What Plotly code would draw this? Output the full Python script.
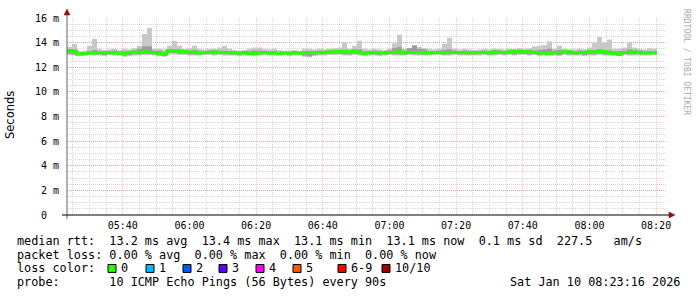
import pandas as pd
import plotly.graph_objects as go

# ---------------- data ----------------
start_time = "2026-01-10 05:23:16"
end_time = "2026-01-10 08:23:16"
step_seconds = 90

median_ms = [13.35,13.3,13.05,13.1,13.15,13.15,13.2,13.15,13.2,13.15,
             13.15,13.1,13.2,13.25,13.2,13.25,13.2,13.2,13.1,13.05,
             13.35,13.35,13.3,13.25,13.2,13.25,13.15,13.2,13.2,13.25,
             13.2,13.2,13.2,13.15,13.15,13.2,13.1,13.1,13.15,13.2,
             13.15,13.15,13.1,13.15,13.15,13.15,13.15,13.15,13.2,13.2,
             13.2,13.2,13.25,13.25,13.3,13.3,13.25,13.3,13.2,13.1,
             13.15,13.2,13.15,13.15,13.2,13.2,13.25,13.15,13.2,13.2,
             13.2,13.15,13.15,13.2,13.2,13.15,13.2,13.2,13.2,13.2,
             13.15,13.2,13.2,13.2,13.15,13.25,13.2,13.2,13.25,13.3,
             13.3,13.25,13.25,13.2,13.15,13.15,13.1,13.2,13.2,13.25,
             13.25,13.15,13.2,13.2,13.25,13.2,13.3,13.25,13.15,13.1,
             13.05,13.2,13.2,13.25,13.2,13.15,13.15,13.15]

smoke_max = [13.65,13.9,13.3,13.35,13.75,14.3,13.5,13.4,13.45,13.5,
             13.4,13.5,13.45,13.55,13.75,14.7,15.2,13.5,13.5,13.45,
             13.75,14.15,13.75,13.5,13.55,13.75,13.5,13.45,13.5,13.5,
             13.6,13.75,13.5,13.4,13.35,13.4,13.5,13.6,13.6,13.5,
             13.45,13.5,13.4,13.35,13.35,13.4,13.35,13.5,13.5,13.45,
             13.5,13.45,13.5,13.55,13.6,14.0,13.5,13.75,14.15,13.5,
             13.45,13.5,13.45,13.4,13.5,13.95,14.65,13.5,13.55,13.8,
             13.65,13.55,13.5,13.45,13.5,13.9,14.4,13.5,13.45,13.5,
             13.45,13.4,13.45,13.5,13.45,13.5,13.5,13.45,13.5,13.5,
             13.55,13.5,13.55,13.7,13.75,13.8,14.1,13.5,13.75,13.5,
             13.45,13.45,13.5,13.45,13.6,14.0,14.45,14.0,14.25,13.5,
             13.5,13.6,14.0,13.6,13.5,13.45,13.55,13.5]

smoke_min = [13.0,12.95,12.95,12.95,13.0,12.95,12.95,12.9,13.0,12.95,
             12.95,12.85,12.9,12.95,12.95,13.0,13.0,12.95,12.9,12.85,
             13.05,13.05,13.0,13.0,12.95,12.95,12.95,13.0,13.0,12.95,
             13.0,12.95,12.95,12.95,12.9,12.95,12.95,12.9,12.95,13.0,
             12.95,12.95,12.95,13.0,12.9,12.95,12.95,12.85,12.8,12.9,
             12.95,12.95,13.0,13.0,13.0,12.95,12.95,13.0,12.95,12.95,
             12.95,12.95,12.9,12.95,13.0,12.95,12.95,12.95,13.0,12.95,
             12.95,12.95,12.95,13.0,13.0,12.95,12.95,13.0,12.95,12.95,
             12.95,12.95,12.95,13.0,12.95,12.95,13.0,12.95,13.0,12.95,
             13.0,13.0,12.95,13.0,12.9,12.95,12.95,12.95,12.9,13.0,
             12.95,12.95,12.95,12.9,12.95,12.95,13.0,12.95,12.95,12.95,
             12.9,13.0,12.95,12.95,12.95,12.95,12.95,13.0]

smoke_mid_lo = [13.1,13.05,13.0,13.0,13.05,13.05,13.05,13.0,13.05,13.05,
                13.0,12.95,13.0,13.05,13.05,13.1,13.1,13.05,13.0,12.95,
                13.15,13.15,13.1,13.1,13.05,13.05,13.05,13.05,13.1,13.05,
                13.1,13.05,13.05,13.05,13.0,13.05,13.0,13.0,13.05,13.1,
                13.05,13.05,13.0,13.05,13.0,13.05,13.05,12.95,12.9,13.0,
                13.05,13.05,13.1,13.1,13.1,13.05,13.05,13.1,13.05,13.0,
                13.05,13.05,13.0,13.05,13.1,13.05,13.05,13.05,13.1,13.05,
                13.05,13.05,13.05,13.1,13.1,13.05,13.05,13.1,13.05,13.05,
                13.05,13.05,13.05,13.1,13.05,13.05,13.1,13.05,13.1,13.05,
                13.1,13.1,13.05,13.1,13.0,13.05,13.05,13.05,13.0,13.1,
                13.05,13.05,13.05,13.0,13.05,13.05,13.1,13.05,13.05,13.0,
                12.95,13.1,13.05,13.05,13.05,13.05,13.05,13.1]

smoke_mid_hi = [13.45,13.45,13.2,13.2,13.3,13.4,13.3,13.3,13.3,13.35,
                13.25,13.3,13.3,13.35,13.5,13.7,13.7,13.35,13.35,13.25,
                13.45,13.45,13.45,13.4,13.35,13.4,13.3,13.3,13.35,13.35,
                13.35,13.35,13.3,13.3,13.25,13.3,13.3,13.35,13.35,13.3,
                13.3,13.3,13.25,13.25,13.25,13.3,13.25,13.3,13.3,13.3,
                13.35,13.35,13.35,13.4,13.4,13.4,13.35,13.45,13.45,13.3,
                13.3,13.35,13.3,13.3,13.35,13.55,13.65,13.35,13.55,13.75,
                13.5,13.45,13.3,13.3,13.35,13.4,13.45,13.35,13.3,13.35,
                13.3,13.3,13.3,13.35,13.3,13.4,13.35,13.3,13.35,13.4,
                13.4,13.4,13.4,13.35,13.4,13.45,13.5,13.35,13.4,13.35,
                13.35,13.3,13.35,13.35,13.4,13.4,13.45,13.4,13.35,13.3,
                13.3,13.35,13.45,13.4,13.35,13.3,13.3,13.3]

y_tick_vals = [0, 2, 4, 6, 8, 10, 12, 14, 16]
y_tick_text = ["0  ", "2 m", "4 m", "6 m", "8 m", "10 m", "12 m", "14 m", "16 m"]

legend_line1 = "median rtt:  13.2 ms avg  13.4 ms max  13.1 ms min  13.1 ms now  0.1 ms sd  227.5   am/s"
legend_line2 = "packet loss: 0.00 % avg  0.00 % max  0.00 % min  0.00 % now"
legend_line3_head = "loss color:"
legend_line4 = "probe:       10 ICMP Echo Pings (56 Bytes) every 90s"
timestamp_text = "Sat Jan 10 08:23:16 2026"

loss_labels = ["0", "1", "2", "3", "4", "5", "6-9", "10/10"]
loss_colors = ["#26ff00", "#00b8ff", "#0059ff", "#5e00ff", "#ff00ff", "#ff5500", "#ff0000", "#a10000"]

# ---------------- geometry helpers ----------------
PL, PR, PT, PB = 67, 30, 16, 82
W, H = 697, 297
PW, PH = W - PL - PR, H - PT - PB


def px(xp):
    return (xp - PL) / PW


def py(yp):
    return (PT + PH - yp) / PH


def keep_spaces(s):
    return s.replace(" ", "\u00a0")


n = len(median_ms)
t0 = pd.Timestamp(start_time)
step_starts = [t0 + pd.Timedelta(seconds=step_seconds * i) for i in range(n)]
centers = [s + pd.Timedelta(seconds=step_seconds / 2) for s in step_starts]
line_x = step_starts + [step_starts[-1] + pd.Timedelta(seconds=step_seconds)]
line_y = median_ms + [median_ms[-1]]

fig = go.Figure()
fig.add_trace(go.Bar(
    x=centers, base=smoke_min, y=[a - b for a, b in zip(smoke_max, smoke_min)],
    width=step_seconds * 1000, marker=dict(color="#c8c8c8", line=dict(width=0)),
    hoverinfo="skip"))
fig.add_trace(go.Bar(
    x=centers, base=smoke_mid_lo, y=[a - b for a, b in zip(smoke_mid_hi, smoke_mid_lo)],
    width=step_seconds * 1000, marker=dict(color="#9c9c9c", line=dict(width=0)),
    hoverinfo="skip"))
fig.add_trace(go.Scatter(
    x=line_x, y=line_y, mode="lines", line=dict(color="#26ff00", width=3, shape="hv"),
    hoverinfo="skip"))

MAJOR = "rgba(255,60,60,0.32)"
MINOR = "rgba(150,150,150,0.38)"

mono = "DejaVu Sans Mono"
fig.update_layout(
    width=W, height=H,
    margin=dict(l=PL, r=PR, t=PT, b=PB, pad=0),
    paper_bgcolor="white", plot_bgcolor="white",
    showlegend=False, barmode="overlay",
    font=dict(family=mono, size=10, color="#000000"),
    xaxis=dict(
        type="date", range=[start_time, end_time],
        tickmode="linear", tick0="2026-01-10 05:40:00", dtick=20 * 60 * 1000,
        tickformat="%H:%M", ticks="", ticklabelstandoff=3,
        tickfont=dict(family=mono, size=10, color="#000000"),
        showgrid=True, gridcolor=MAJOR, griddash="1px,1px", gridwidth=1,
        minor=dict(tick0="2026-01-10 05:25:00", dtick=5 * 60 * 1000, showgrid=True,
                   gridcolor=MINOR, griddash="1px,1px", gridwidth=1),
        showline=False, zeroline=False, fixedrange=True,
    ),
    yaxis=dict(
        range=[0, 16], tickmode="array", tickvals=y_tick_vals,
        ticktext=[keep_spaces(t) for t in y_tick_text],
        ticks="", ticklabelstandoff=7,
        tickfont=dict(family=mono, size=10, color="#000000"),
        showgrid=True, gridcolor=MAJOR, griddash="1px,1px", gridwidth=1,
        minor=dict(dtick=0.5, showgrid=True, gridcolor=MINOR,
                   griddash="1px,1px", gridwidth=1),
        showline=False, zeroline=False, fixedrange=True,
    ),
)

shapes = []
# axes lines
shapes.append(dict(type="line", xref="paper", yref="paper", x0=px(67), x1=px(67),
                   y0=py(219), y1=py(11), line=dict(color="#666666", width=1)))
shapes.append(dict(type="line", xref="paper", yref="paper", x0=px(62), x1=px(670),
                   y0=py(215), y1=py(215), line=dict(color="#000000", width=1)))
# arrows
shapes.append(dict(type="path", xref="paper", yref="paper",
                   path=f"M {px(67)} {py(7)} L {px(64)} {py(13)} L {px(70)} {py(13)} Z",
                   fillcolor="#8b1010", line=dict(color="#8b1010", width=0.5)))
shapes.append(dict(type="path", xref="paper", yref="paper",
                   path=f"M {px(675)} {py(215)} L {px(669)} {py(212)} L {px(669)} {py(218)} Z",
                   fillcolor="#8b1010", line=dict(color="#8b1010", width=0.5)))

annotations = []
FS = 11.8


def txt(x, y, s, size=FS, color="#000000", family=mono, **kw):
    d = dict(xref="paper", yref="paper", x=px(x), y=py(y), text=keep_spaces(s), showarrow=False,
             xanchor="left", yanchor="middle", borderpad=0,
             font=dict(family=family, size=size, color=color))
    d.update(kw)
    annotations.append(d)


txt(16, 241, legend_line1)
txt(16, 255, legend_line2)
txt(16, 269, legend_line3_head)
sq_x = [108, 146, 183, 219, 256, 293, 338, 382]
for xp, lab, col in zip(sq_x, loss_labels, loss_colors):
    shapes.append(dict(type="rect", xref="paper", yref="paper",
                       x0=px(xp), x1=px(xp + 8), y0=py(273), y1=py(265),
                       fillcolor=col, line=dict(color="#000000", width=1)))
    txt(xp + 12, 269, lab)
txt(16, 283, legend_line4)
txt(681, 283, timestamp_text, xanchor="right")

# y title
annotations.append(dict(xref="paper", yref="paper", x=px(10), y=py(114), text="Seconds",
                        showarrow=False, textangle=-90, xanchor="center", yanchor="middle",
                        font=dict(family="DejaVu Sans", size=11.5, color="#000000")))
# watermark
annotations.append(dict(xref="paper", yref="paper", x=px(687), y=py(5), text="RRDTOOL / TOBI OETIKER",
                        showarrow=False, textangle=90, xanchor="center", yanchor="top",
                        font=dict(family=mono, size=8, color="#aaaaaa")))

fig.update_layout(shapes=shapes, annotations=annotations)
fig.write_html("out.html")
